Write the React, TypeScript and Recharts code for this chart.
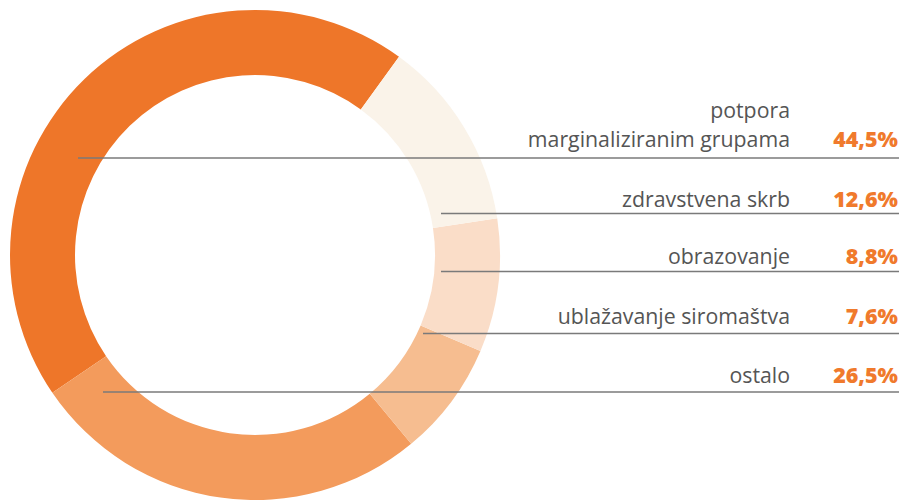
import { PieChart, Pie, Cell } from "recharts";

// shares in ring order (counter-clockwise from the top-right)
const categories = ["potpora marginaliziranim grupama", "ostalo", "ublažavanje siromaštva", "obrazovanje", "zdravstvena skrb"];
const shares = [44.5, 26.5, 7.6, 8.8, 12.6];
const sliceColors = ["#EE7629", "#F39B5C", "#F6BD90", "#FADDC8", "#FAF3E9"];

// legend rows, top to bottom
const legendLabels = [["potpora", "marginaliziranim grupama"], ["zdravstvena skrb"], ["obrazovanje"], ["ublažavanje siromaštva"], ["ostalo"]];
const legendValues = ["44,5%", "12,6%", "8,8%", "7,6%", "26,5%"];

// layout for legend rows: baseline y, line y, line start x
const rowBaseline = [147, 207, 264, 324, 383];
const rowLineY = [158, 213.5, 271.5, 333.5, 392];
const rowLineStart = [78, 441, 441, 423, 103];

const data = categories.map((name, i) => ({ name, value: shares[i] }));

const W = 902;
const H = 501;
const font = "'Open Sans', 'Noto Sans', sans-serif";

export default function App() {
   return (
      <div style={{ position: "relative", width: W, height: H, background: "#fff" }}>
         <style>{`body{margin:0}`}</style>
         <PieChart width={W} height={H} margin={{ top: 0, right: 0, bottom: 0, left: 0 }}>
            <Pie
               data={data}
               dataKey="value"
               nameKey="name"
               cx={255}
               cy={255}
               innerRadius={180}
               outerRadius={245}
               startAngle={54}
               endAngle={414}
               stroke="none"
               isAnimationActive={false}
            >
               {data.map((d, i) => (
                  <Cell key={d.name} fill={sliceColors[i]} />
               ))}
            </Pie>
         </PieChart>
         <svg width={W} height={H} style={{ position: "absolute", left: 0, top: 0, pointerEvents: "none" }}>
            {legendLabels.map((lines, i) => (
               <g key={i}>
                  <line x1={rowLineStart[i]} x2={899} y1={rowLineY[i]} y2={rowLineY[i]} stroke="#7a7a7a" strokeWidth={1.5} />
                  {lines.map((t, j) => (
                     <text
                        key={j}
                        x={790}
                        y={rowBaseline[i] - (lines.length - 1 - j) * 29}
                        textAnchor="end"
                        fontFamily={font}
                        fontSize={21.3}
                        fill="#555"
                     >
                        {t}
                     </text>
                  ))}
                  <text x={898} y={rowBaseline[i]} textAnchor="end" fontFamily={font} fontSize={21.5} fontWeight={800} fill="#F07A2C">
                     {legendValues[i]}
                  </text>
               </g>
            ))}
         </svg>
      </div>
   );
}
